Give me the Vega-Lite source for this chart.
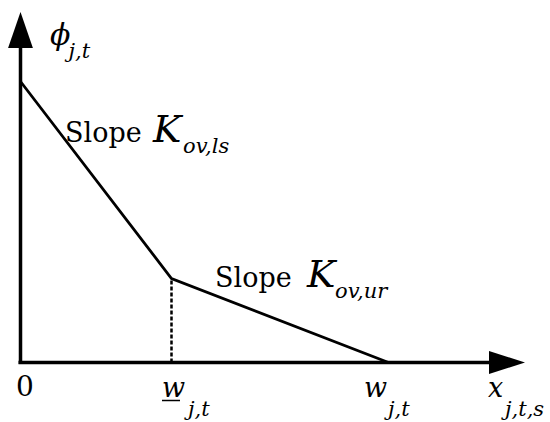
{
  "$schema": "https://vega.github.io/schema/vega-lite/v6.json",
  "width": 550,
  "height": 422,
  "padding": 0,
  "autosize": {"type": "fit", "contains": "padding"},
  "background": "white",
  "config": {"view": {"stroke": null}},
  "datasets": {
    "curve": [
      {"x": 0, "y": 281},
      {"x": 151, "y": 84},
      {"x": 368, "y": 0}
    ],
    "guide": [{"x": 151, "y": 0}, {"x": 151, "y": 84}],
    "axes": [
      {"name": "y", "x": 0, "x2": 0, "y": -1.5, "y2": 316},
      {"name": "x", "x": -2, "x2": 470, "y": 0, "y2": 0}
    ],
    "arrows": [
      {"name": "y", "x": 0, "y": 332.5},
      {"name": "x", "x": 486.5, "y": 0}
    ],
    "labels": [
      {"role": "phi", "text": "ϕ", "x": 29.5, "y": 318},
      {"role": "sub", "text": "j,t", "x": 48, "y": 304.5},
      {"role": "roman", "text": "Slope", "x": 44.5, "y": 220.8},
      {"role": "big", "text": "K", "x": 132.5, "y": 220.8},
      {"role": "sub", "text": "ov,ls", "x": 162.5, "y": 209.5},
      {"role": "roman", "text": "Slope", "x": 194.5, "y": 75.8},
      {"role": "big", "text": "K", "x": 286.5, "y": 75.8},
      {"role": "sub", "text": "ov,ur", "x": 314.5, "y": 64.5},
      {"role": "zero", "text": "0", "x": -4.5, "y": -33.5},
      {"role": "main", "text": "w", "x": 141.5, "y": -34.5},
      {"role": "sub", "text": "j,t", "x": 167.5, "y": -53.5},
      {"role": "main", "text": "w", "x": 343.5, "y": -34.5},
      {"role": "sub", "text": "j,t", "x": 367.5, "y": -53.5},
      {"role": "main", "text": "x", "x": 467.5, "y": -34.5},
      {"role": "sub", "text": "j,t,s", "x": 484.5, "y": -53.5}
    ],
    "underline": [{"x": 141.5, "x2": 159.5, "y": -38}]
  },
  "layer": [
    {
      "data": {"name": "axes"},
      "mark": {"type": "rule", "color": "black", "strokeWidth": 3.5},
      "encoding": {
        "x": {"field": "x", "type": "quantitative", "scale": {"domain": [-20.5, 529.5], "nice": false, "zero": false}, "axis": null},
        "x2": {"field": "x2"},
        "y": {"field": "y", "type": "quantitative", "scale": {"domain": [-59.5, 362.5], "nice": false, "zero": false}, "axis": null},
        "y2": {"field": "y2"}
      }
    },
    {
      "data": {"name": "curve"},
      "mark": {"type": "line", "color": "black", "strokeWidth": 2.8},
      "encoding": {
        "x": {"field": "x", "type": "quantitative"},
        "y": {"field": "y", "type": "quantitative"}
      }
    },
    {
      "data": {"name": "guide"},
      "mark": {"type": "line", "color": "black", "strokeWidth": 2.5, "strokeDash": [4, 2]},
      "encoding": {
        "x": {"field": "x", "type": "quantitative"},
        "y": {"field": "y", "type": "quantitative"}
      }
    },
    {
      "data": {"name": "underline"},
      "mark": {"type": "rule", "color": "black", "strokeWidth": 1.5},
      "encoding": {
        "x": {"field": "x", "type": "quantitative"},
        "x2": {"field": "x2"},
        "y": {"field": "y", "type": "quantitative"}
      }
    },
    {
      "data": {"name": "arrows"},
      "transform": [{"filter": "datum.name === 'y'"}],
      "mark": {"type": "point", "shape": "M0,-1L0.69,1L-0.69,1Z", "size": 1296, "filled": true, "color": "black", "opacity": 1, "strokeWidth": 0},
      "encoding": {
        "x": {"field": "x", "type": "quantitative"},
        "y": {"field": "y", "type": "quantitative"}
      }
    },
    {
      "data": {"name": "arrows"},
      "transform": [{"filter": "datum.name === 'x'"}],
      "mark": {"type": "point", "shape": "M1,0L-1,0.64L-1,-0.64Z", "size": 1296, "filled": true, "color": "black", "opacity": 1, "strokeWidth": 0},
      "encoding": {
        "x": {"field": "x", "type": "quantitative"},
        "y": {"field": "y", "type": "quantitative"}
      }
    },
    {
      "data": {"name": "labels"},
      "transform": [{"filter": "datum.role === 'roman'"}],
      "mark": {"type": "text", "font": "DejaVu Serif", "fontSize": 27, "align": "left", "baseline": "alphabetic", "color": "black"},
      "encoding": {
        "x": {"field": "x", "type": "quantitative"},
        "y": {"field": "y", "type": "quantitative"},
        "text": {"field": "text"}
      }
    },
    {
      "data": {"name": "labels"},
      "transform": [{"filter": "datum.role === 'zero'"}],
      "mark": {"type": "text", "font": "DejaVu Serif", "fontSize": 28, "align": "left", "baseline": "alphabetic", "color": "black"},
      "encoding": {
        "x": {"field": "x", "type": "quantitative"},
        "y": {"field": "y", "type": "quantitative"},
        "text": {"field": "text"}
      }
    },
    {
      "data": {"name": "labels"},
      "transform": [{"filter": "datum.role === 'main'"}],
      "mark": {"type": "text", "font": "DejaVu Serif", "fontStyle": "italic", "fontSize": 27, "align": "left", "baseline": "alphabetic", "color": "black"},
      "encoding": {
        "x": {"field": "x", "type": "quantitative"},
        "y": {"field": "y", "type": "quantitative"},
        "text": {"field": "text"}
      }
    },
    {
      "data": {"name": "labels"},
      "transform": [{"filter": "datum.role === 'phi'"}],
      "mark": {"type": "text", "font": "DejaVu Serif", "fontStyle": "italic", "fontSize": 30, "align": "left", "baseline": "alphabetic", "color": "black"},
      "encoding": {
        "x": {"field": "x", "type": "quantitative"},
        "y": {"field": "y", "type": "quantitative"},
        "text": {"field": "text"}
      }
    },
    {
      "data": {"name": "labels"},
      "transform": [{"filter": "datum.role === 'big'"}],
      "mark": {"type": "text", "font": "DejaVu Serif", "fontStyle": "italic", "fontSize": 38, "align": "left", "baseline": "alphabetic", "color": "black"},
      "encoding": {
        "x": {"field": "x", "type": "quantitative"},
        "y": {"field": "y", "type": "quantitative"},
        "text": {"field": "text"}
      }
    },
    {
      "data": {"name": "labels"},
      "transform": [{"filter": "datum.role === 'sub'"}],
      "mark": {"type": "text", "font": "DejaVu Serif", "fontStyle": "italic", "fontSize": 21, "align": "left", "baseline": "alphabetic", "color": "black"},
      "encoding": {
        "x": {"field": "x", "type": "quantitative"},
        "y": {"field": "y", "type": "quantitative"},
        "text": {"field": "text"}
      }
    }
  ]
}
